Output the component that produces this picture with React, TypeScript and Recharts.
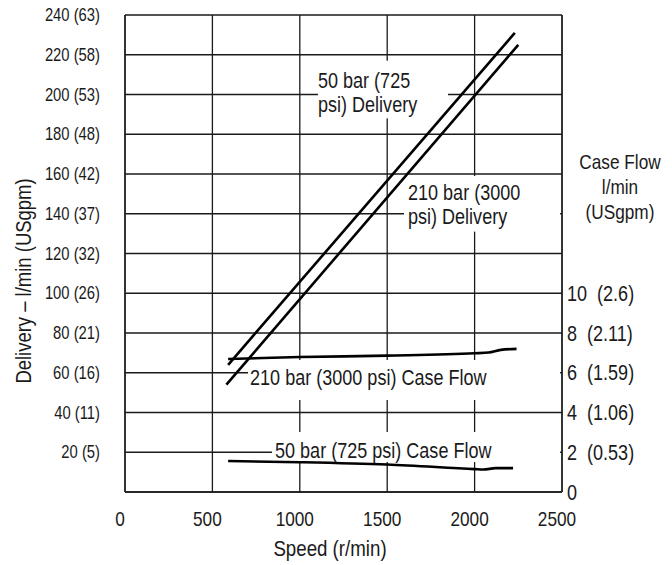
import React from 'react';
import {
  LineChart,
  Line,
  XAxis,
  YAxis,
  CartesianGrid,
  ReferenceArea,
} from 'recharts';

const FONT = '"Liberation Sans", Arial, sans-serif';
const INK = '#1a1a1a';
const NARROW = 0.82;

// axes
const speedTicks = [0, 500, 1000, 1500, 2000, 2500];
const deliveryTicks = [0, 20, 40, 60, 80, 100, 120, 140, 160, 180, 200, 220, 240];
const deliveryTickLabels = [
  '', '20 (5)', '40 (11)', '60 (16)', '80 (21)', '100 (26)', '120 (32)',
  '140 (37)', '160 (42)', '180 (48)', '200 (53)', '220 (58)', '240 (63)',
];
const caseFlowTicks = [0, 2, 4, 6, 8, 10];
const caseFlowTickLabels = ['0', '2  (0.53)', '4  (1.06)', '6  (1.59)', '8  (2.11)', '10  (2.6)'];

// delivery, l/min (left axis)
const delivery50Speed = [590, 2230];
const delivery50Flow = [64, 231];
const delivery210Speed = [580, 2250];
const delivery210Flow = [54, 225];

// case flow, l/min (right axis)
const caseFlow210Speed = [590, 1000, 1500, 2000, 2080, 2150, 2240];
const caseFlow210Flow = [6.69, 6.79, 6.86, 6.98, 7.02, 7.15, 7.2];
const caseFlow50Speed = [590, 1000, 1500, 2000, 2050, 2120, 2220];
const caseFlow50Flow = [1.56, 1.5, 1.38, 1.15, 1.13, 1.2, 1.2];

const toPoints = (xs: number[], ys: number[]) => xs.map((speed, i) => ({ speed, flow: ys[i] }));

// callouts drawn on white boxes (data coords of the box)
const callouts = [
  { lines: ['50 bar (725', 'psi) Delivery'], x1: 1104, x2: 1848, y1: 188, y2: 217, dx: 0, dy: 27 },
  { lines: ['210 bar (3000', 'psi) Delivery'], x1: 1596, x2: 2489, y1: 131, y2: 159, dx: 4, dy: 24 },
  { lines: ['210 bar (3000 psi) Case Flow'], x1: 704, x2: 2489, y1: 46.3, y2: 66.4, dx: 2, dy: 25 },
  { lines: ['50 bar (725 psi) Case Flow'], x1: 841, x2: 2489, y1: 15.1, y2: 30.2, dx: 3, dy: 26 },
];

// condensed text: the original face is a narrow sans, so squeeze Liberation Sans
function NText({ x, y, size, anchor = 'start', rotate = 0, baseline, sx = NARROW, children }: any) {
  return (
    <text
      transform={`translate(${x} ${y}) rotate(${rotate}) scale(${sx} 1)`}
      textAnchor={anchor}
      dominantBaseline={baseline}
      fontFamily={FONT}
      fontSize={size}
      fill={INK}
      style={{ whiteSpace: 'pre' }}
    >
      {children}
    </text>
  );
}

function Callout(props: any) {
  const { x, y, width, height, lines, dx, dy } = props;
  return (
    <g>
      <rect x={x} y={y} width={width} height={height} fill="#fff" />
      {lines.map((t: string, i: number) => (
        <NText key={i} x={x + dx} y={y + dy + i * 24} size={22}>
          {t}
        </NText>
      ))}
    </g>
  );
}

function LeftTick({ x, y, payload }: any) {
  const i = deliveryTicks.indexOf(payload.value);
  return (
    <NText x={x} y={y} size={18.5} anchor="end" baseline="central" sx={0.8}>
      {deliveryTickLabels[i]}
    </NText>
  );
}

function RightTick({ x, y, payload }: any) {
  const i = caseFlowTicks.indexOf(payload.value);
  return (
    <NText x={x} y={y} size={22} baseline="central">
      {caseFlowTickLabels[i]}
    </NText>
  );
}

function BottomTick({ x, y, payload }: any) {
  return (
    <NText x={x - 5} y={y} size={21} anchor="middle" baseline="central">
      {String(payload.value)}
    </NText>
  );
}

export default function App() {
  return (
    <div style={{ position: 'absolute', left: 0, top: 0, background: '#fff' }}>
      <LineChart width={672} height={565} margin={{ top: 15, right: 0, bottom: 0, left: 0 }}>
        <CartesianGrid yAxisId="left" stroke={INK} strokeWidth={1.3} />
        <XAxis
          dataKey="speed"
          type="number"
          domain={[0, 2500]}
          ticks={speedTicks}
          allowDataOverflow
          height={73}
          tickLine={false}
          tickSize={0}
          tickMargin={27}
          axisLine={{ stroke: INK, strokeWidth: 1.3 }}
          tick={<BottomTick />}
          label={{
            content: ({ viewBox }: any) => (
              <NText x={viewBox.x + 205} y={viewBox.y + 56} size={22} anchor="middle" baseline="central" sx={0.85}>
                Speed (r/min)
              </NText>
            ),
          }}
        />
        <YAxis
          yAxisId="left"
          type="number"
          domain={[0, 240]}
          ticks={deliveryTicks}
          width={125}
          tickLine={false}
          tickSize={0}
          tickMargin={25}
          interval={0}
          axisLine={{ stroke: INK, strokeWidth: 1.3 }}
          tick={<LeftTick />}
          label={{
            content: ({ viewBox }: any) => (
              <NText x={viewBox.x + 23} y={viewBox.y + 266} size={22} anchor="middle" baseline="central" rotate={-90} sx={0.84}>
                Delivery – l/min (USgpm)
              </NText>
            ),
          }}
        />
        <YAxis
          yAxisId="right"
          orientation="right"
          type="number"
          domain={[0, 24]}
          ticks={caseFlowTicks}
          width={110}
          tickLine={false}
          tickSize={0}
          tickMargin={5}
          interval={0}
          axisLine={{ stroke: INK, strokeWidth: 1.3 }}
          tick={<RightTick />}
          label={{
            content: ({ viewBox }: any) => (
              <g>
                {['Case Flow', 'l/min', '(USgpm)'].map((t, i) => (
                  <NText key={i} x={viewBox.x + 58} y={162 + i * 25} size={21} anchor="middle" baseline="central">
                    {t}
                  </NText>
                ))}
              </g>
            ),
          }}
        />
        {callouts.map((c, i) => (
          <ReferenceArea
            key={i}
            yAxisId="left"
            x1={c.x1}
            x2={c.x2}
            y1={c.y1}
            y2={c.y2}
            shape={(p: any) => <Callout {...p} lines={c.lines} dx={c.dx} dy={c.dy} />}
          />
        ))}
        <Line
          yAxisId="left"
          data={toPoints(delivery50Speed, delivery50Flow)}
          dataKey="flow"
          stroke="#000"
          strokeWidth={2.6}
          dot={false}
          isAnimationActive={false}
        />
        <Line
          yAxisId="left"
          data={toPoints(delivery210Speed, delivery210Flow)}
          dataKey="flow"
          stroke="#000"
          strokeWidth={2.6}
          dot={false}
          isAnimationActive={false}
        />
        <Line
          yAxisId="right"
          type="monotone"
          data={toPoints(caseFlow210Speed, caseFlow210Flow)}
          dataKey="flow"
          stroke="#000"
          strokeWidth={2.6}
          dot={false}
          isAnimationActive={false}
        />
        <Line
          yAxisId="right"
          type="monotone"
          data={toPoints(caseFlow50Speed, caseFlow50Flow)}
          dataKey="flow"
          stroke="#000"
          strokeWidth={2.6}
          dot={false}
          isAnimationActive={false}
        />
      </LineChart>
    </div>
  );
}
